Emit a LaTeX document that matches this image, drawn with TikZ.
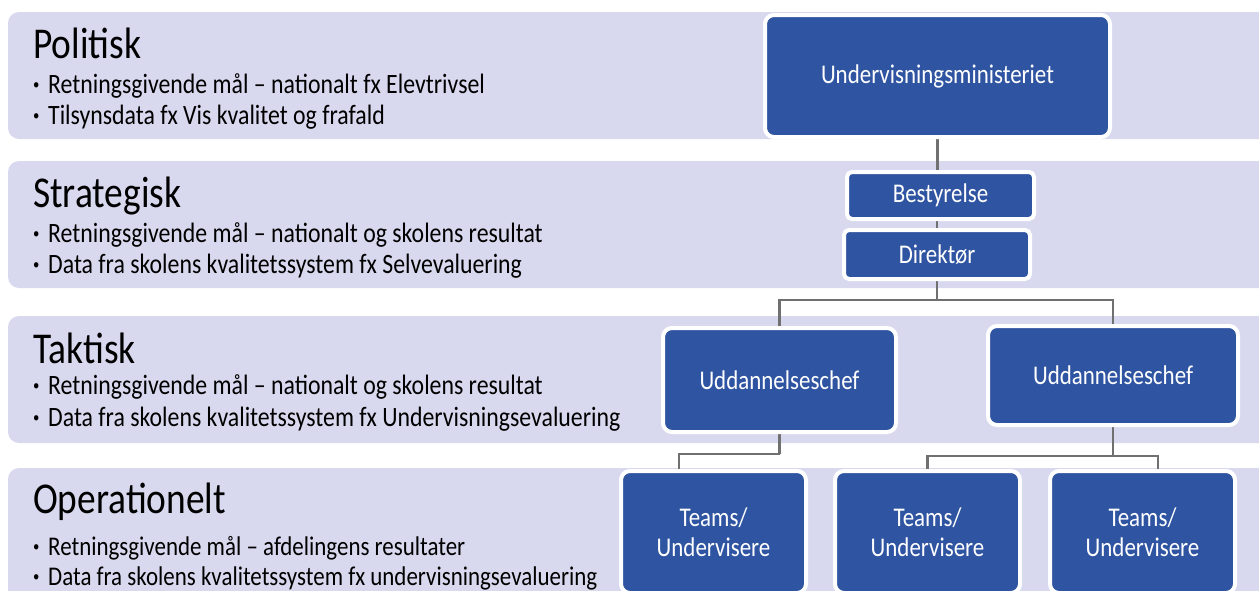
\documentclass[tikz,border=0pt]{standalone}
\usepackage{fontspec}
\setmainfont{Carlito}[FakeStretch=0.85]
\usetikzlibrary{calc}
\definecolor{bandc}{RGB}{216,217,238}
\definecolor{boxc}{RGB}{47,84,161}
\definecolor{linec}{RGB}{112,112,112}
\pgfdeclarelayer{bandlayer}
\pgfdeclarelayer{linelayer}
\pgfsetlayers{bandlayer,linelayer,main}
\newcommand\bulmark{\makebox[15pt][l]{\fontsize{15}{15}\selectfont\raisebox{3.5pt}{•}}}
\begin{document}
\begin{tikzpicture}[x=1pt,y=-1pt,
  orgbox/.style={draw=white, line width=4pt, fill=boxc, rounded corners=9pt, text=white,
    font=\fontsize{27}{30}\selectfont, inner sep=0pt, align=center},
  conn/.style={draw=linec, line width=2.5pt},
  band/.style={fill=bandc, rounded corners=11pt},
  title/.style={anchor=base west, inner sep=0pt, font=\fontsize{44}{48}\selectfont},
  bul/.style={anchor=base west, inner sep=0pt, font=\fontsize{28}{30}\selectfont},
  bulsmall/.style={bul, font=\fontsize{27}{30}\selectfont}]
\useasboundingbox (0,0) rectangle (1259,590);

% bands
\begin{pgfonlayer}{bandlayer}
\fill[band] (8,12) rectangle (1290,139);
\fill[band] (8,161) rectangle (1290,288);
\fill[band] (8,316) rectangle (1290,443);
\fill[band] (8,468) rectangle (1290,640);
\end{pgfonlayer}

% band texts
\node[title] (t1) at (33,58) {Politisk};
\node[bul] (b11) at (33,93) {\bulmark Retningsgivende mål – nationalt fx Elevtrivsel};
\node[bul] (b12) at (33,124) {\bulmark Tilsynsdata fx Vis kvalitet og frafald};

\node[title] (t2) at (33,207) {Strategisk};
\node[bul] (b21) at (33,242) {\bulmark Retningsgivende mål – nationalt og skolens resultat};
\node[bul] (b22) at (33,273) {\bulmark Data fra skolens kvalitetssystem fx Selvevaluering};

\node[title] (t3) at (33,363) {Taktisk};
\node[bul] (b31) at (33,394) {\bulmark Retningsgivende mål – nationalt og skolens resultat};
\node[bul] (b32) at (33,426) {\bulmark Data fra skolens kvalitetssystem fx Undervisningsevaluering};

\node[title] (t4) at (33,513) {Operationelt};
\node[bulsmall] (b41) at (33,555) {\bulmark Retningsgivende mål – afdelingens resultater};
\node[bulsmall] (b42) at (33,585) {\bulmark Data fra skolens kvalitetssystem fx undervisningsevaluering};

% org boxes
\node[orgbox, minimum width=345pt, minimum height=122pt] (min) at (937.5,76) {Undervisningsministeriet};
\node[orgbox, minimum width=187pt, minimum height=47pt, rounded corners=5pt] (bes) at (940.5,195.5) {Bestyrelse};
\node[orgbox, minimum width=186pt, minimum height=49pt, rounded corners=5pt] (dir) at (937,254.5) {Direktør};
\node[orgbox, minimum width=233pt, minimum height=104pt] (udd1) at (779.5,380) {Uddannelseschef};
\node[orgbox, minimum width=250pt, minimum height=99pt] (udd2) at (1113,375.5) {Uddannelseschef};
\node[orgbox, minimum width=185pt, minimum height=122pt] (tm1) at (713.5,532) {Teams/\\Undervisere};
\node[orgbox, minimum width=185pt, minimum height=122pt] (tm2) at (927.5,532) {Teams/\\Undervisere};
\node[orgbox, minimum width=185pt, minimum height=122pt] (tm3) at (1142.5,532) {Teams/\\Undervisere};

\coordinate (hy) at (937,300);
\coordinate (l1) at (780,454);
\coordinate (l2) at (1113,456);
\coordinate (c1) at ($(tm1.north)+(-34.5,0)$);
\coordinate (c3) at ($(tm3.north)+(15.5,0)$);

\begin{pgfonlayer}{linelayer}
\draw[conn] (min.south) -- (min.south |- bes.north);
\draw[conn] (dir.north) -- (dir.north |- bes.south);
\draw[conn] (dir.south) -- (hy);
\draw[conn] (udd1.north) |- (hy) -| (udd2.north);
\draw[conn] (udd1.south) |- (l1) -| (c1);
\draw[conn] (udd2.south) -- (l2);
\draw[conn] (tm2.north) |- (l2) -| (c3);
\end{pgfonlayer}
\end{tikzpicture}
\end{document}
